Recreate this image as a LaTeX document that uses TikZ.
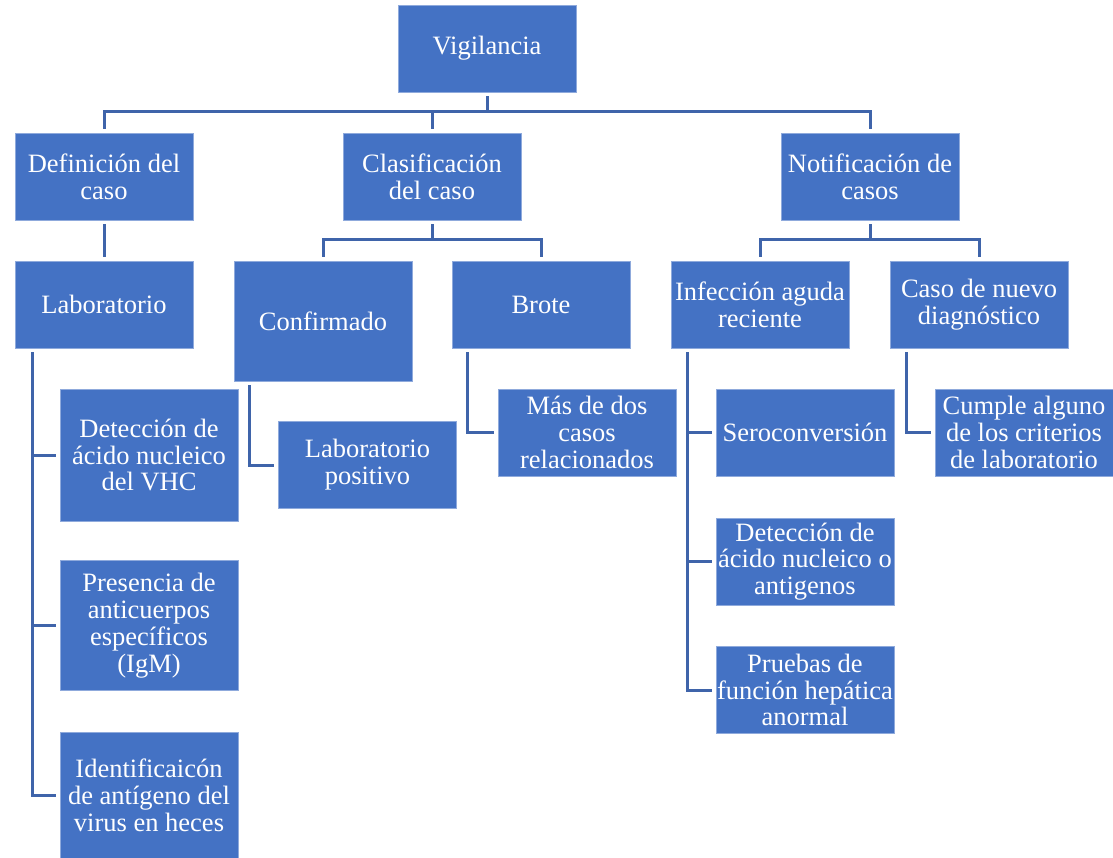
\documentclass[tikz,border=0pt]{standalone}
\usepackage{fontspec}
\setmainfont{Liberation Serif}
\newfontfamily\boxfont{Liberation Serif}
\definecolor{boxblue}{HTML}{4472C4}
\definecolor{edgeblue}{HTML}{8FAADC}
\definecolor{linkblue}{HTML}{3F64AA}
\begin{document}
\begin{tikzpicture}[x=1pt,y=-1pt,
  box/.style={fill=boxblue,draw=edgeblue,line width=0.8pt,text=white,
    minimum width=178pt,minimum height=87pt,inner sep=0pt,align=center,
    font=\boxfont\fontsize{26.5}{26.8}\selectfont},
  conn/.style={draw=linkblue,line width=3pt,shorten <=4pt,shorten >=4pt}]
\useasboundingbox (0,0) rectangle (1113,858);

% top level
\node[box] (vig) at (487,48.5) {Vigilancia};

% second level
\node[box] (def)  at (104,176.5) {Definición del\\caso};
\node[box] (cla)  at (432,176.5) {Clasificación\\del caso};
\node[box] (noti) at (870,176.5) {Notificación de\\casos};

% third level
\node[box] (lab)   at (104,304.5) {Laboratorio};
\node[box,minimum height=120pt] (conf) at (323,321) {Confirmado};
\node[box] (brote) at (541,304.5) {Brote};
\node[box] (inf)   at (760,304.5) {Infección aguda\\reciente};
\node[box] (nuevo) at (979,304.5) {Caso de nuevo\\diagnóstico};

% leaves
\node[box,minimum height=132pt] (d1) at (149,455) {Detección de\\ácido nucleico\\del VHC};
\node[box,minimum height=130pt] (d2) at (149,625.5) {Presencia de\\anticuerpos\\específicos\\(IgM)};
\node[box,minimum height=126pt] (d3) at (149,795) {Identificaicón\\de antígeno del\\virus en heces};
\node[box] (labpos) at (367.5,465) {Laboratorio\\positivo};
\node[box] (mas)    at (587,432.5) {Más de dos\\casos\\relacionados};
\node[box] (sero)   at (805,432.5) {Seroconversión};
\node[box] (det)    at (805,561.5) {Detección de\\ácido nucleico o\\antigenos};
\node[box] (prue)   at (805,690) {Pruebas de\\función hepática\\anormal};
\node[box] (cumple) at (1024,432.5) {Cumple alguno\\de los criterios\\de laboratorio};

% hierarchy connectors
\draw[conn] (vig.south) -- (vig.south |- 0,112) -| (def.north);
\draw[conn] (vig.south) -- (vig.south |- 0,112) -| (cla.north);
\draw[conn] (vig.south) -- (vig.south |- 0,112) -| (noti.north);

\draw[conn] (def.south) -- (lab.north);

\draw[conn] (cla.south) -- (cla.south |- 0,240) -| (conf.north);
\draw[conn] (cla.south) -- (cla.south |- 0,240) -| (brote.north);

\draw[conn] (noti.south) -- (noti.south |- 0,240) -| (inf.north);
\draw[conn] (noti.south) -- (noti.south |- 0,240) -| (nuevo.north);

% side branches
\draw[conn] ([xshift=18pt]lab.south west) |- (d1.west);
\draw[conn] ([xshift=18pt]lab.south west) |- (d2.west);
\draw[conn] ([xshift=18pt]lab.south west) |- (d3.west);

\draw[conn] ([xshift=16pt]conf.south west) |- (labpos.west);
\draw[conn] ([xshift=16pt]brote.south west) |- (mas.west);

\draw[conn] ([xshift=17pt]inf.south west) |- (sero.west);
\draw[conn] ([xshift=17pt]inf.south west) |- (det.west);
\draw[conn] ([xshift=17pt]inf.south west) |- (prue.west);

\draw[conn] ([xshift=17pt]nuevo.south west) |- (cumple.west);
\end{tikzpicture}
\end{document}
